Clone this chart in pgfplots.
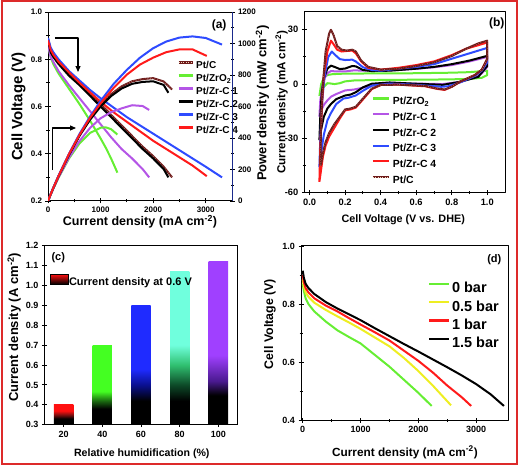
\documentclass[border=0pt]{standalone}
\usepackage{fontspec}
\setmainfont{Liberation Sans}
\usepackage{pgfplots}
\pgfplotsset{compat=1.18}
\usetikzlibrary{arrows.meta}
\definecolor{cGreen}{HTML}{66EE33}
\definecolor{cViolet}{HTML}{B455E6}
\definecolor{cBlue}{HTML}{2E4BFF}
\definecolor{cRed}{HTML}{FF1A1A}
\definecolor{cMaroon}{HTML}{6E1A1A}
\definecolor{cYellow}{HTML}{EEEE22}
\definecolor{cDots}{HTML}{F0D8C0}
\definecolor{cFrame}{HTML}{DD2A2A}
\definecolor{cNavy}{HTML}{1A2A8C}
\definecolor{bRed}{HTML}{FF1010}
\definecolor{bRedDark}{HTML}{801010}
\definecolor{bGreen}{HTML}{44FF22}
\definecolor{bGreenDark}{HTML}{1A6A10}
\definecolor{bBlue}{HTML}{1F2BFF}
\definecolor{bBlueMid}{HTML}{0A1090}
\definecolor{bAqua}{HTML}{70FFDD}
\definecolor{bAquaMid}{HTML}{30C070}
\definecolor{bAquaDark}{HTML}{0D4A28}
\definecolor{bViolet}{HTML}{A040FF}
\definecolor{bVioletMid}{HTML}{4A1A90}
\pgfdeclareverticalshading{shRed}{100bp}{color(0bp)=(black); color(40bp)=(black); color(50bp)=(bRedDark); color(60bp)=(bRed); color(100bp)=(bRed)}
\pgfdeclareverticalshading{shGreen}{100bp}{color(0bp)=(black); color(35bp)=(black); color(40bp)=(bGreenDark); color(46bp)=(bGreen); color(100bp)=(bGreen)}
\pgfdeclareverticalshading{shBlue}{100bp}{color(0bp)=(black); color(35bp)=(black); color(41.7bp)=(bBlueMid); color(48.3bp)=(bBlue); color(100bp)=(bBlue)}
\pgfdeclareverticalshading{shAqua}{100bp}{color(0bp)=(black); color(32.8bp)=(black); color(38bp)=(bAquaDark); color(44.5bp)=(bAquaMid); color(51bp)=(bAqua); color(100bp)=(bAqua)}
\pgfdeclareverticalshading{shViolet}{100bp}{color(0bp)=(black); color(34bp)=(black); color(38.4bp)=(bVioletMid); color(46.3bp)=(bViolet); color(100bp)=(bViolet)}
\newcommand{\fs}[1]{\fontsize{#1}{#1}\selectfont\bfseries}
\pgfplotsset{
  panel/.style={scale only axis, anchor=south west,
    axis line style={line width=1pt},
    every tick/.style={line width=0.9pt, black},
    tick align=center, major tick length=5pt, minor tick length=3pt,
    /pgf/number format/assume math mode=true,
    /pgf/number format/1000 sep={},
    scaled ticks=false, legend cell align=left},
  ln/.style={line width=2pt},
  ptc/.style={cMaroon, line width=2pt, postaction={draw, cDots, dotted, line width=0.4pt}},
}
\begin{document}
\begin{tikzpicture}[x=1pt,y=1pt]
\useasboundingbox (0,0) rectangle (520,468);
% ---------------- (a) voltage
\begin{axis}[panel, at={(48pt,267pt)}, width=184pt, height=189pt,
  xmin=0, xmax=3500, ymin=0.2, ymax=1.0,
  xtick pos=left, ytick pos=left,
  xtick={0,1000,2000,3000}, ytick={0.2,0.4,0.6,0.8,1.0},
  minor x tick num=1, minor y tick num=1,
  yticklabel style={/pgf/number format/.cd, fixed, fixed zerofill, precision=1},
  tick label style={font=\fs{8}},
  xlabel={Current density (mA cm\textsuperscript{-2})},
  xlabel style={font=\fs{12.5}, at={(axis description cs:0.5,-0.111)}, anchor=center},
  ylabel={Cell Voltage (V)},
  ylabel style={font=\fs{15}, at={(axis description cs:-0.16,0.5)}, anchor=center},
  legend style={at={(axis description cs:0.704,0.743)}, anchor=north west, draw=none, fill=none,
    inner sep=0pt, outer sep=0pt, font=\fs{10}, row sep=2pt, column sep=1.5pt,
    nodes={inner sep=1pt, text height=7pt, text depth=2pt}},
  legend image code/.code={\draw[#1, line width=2.2pt] (0pt,3.5pt) -- (14pt,3.5pt);},
  line join=round,
]
\addplot[ptc] coordinates {(0,0.89)(50,0.84)(100,0.82)(200,0.79)(400,0.74)(600,0.70)(800,0.655)(1000,0.61)(1200,0.565)(1400,0.52)(1600,0.475)(1800,0.43)(2000,0.39)(2200,0.345)(2360,0.30)};
\addlegendentry{Pt/C}
\addplot[cGreen, ln] coordinates {(0,0.86)(50,0.81)(100,0.78)(200,0.74)(400,0.675)(600,0.61)(800,0.54)(1000,0.465)(1100,0.425)(1200,0.38)(1320,0.32)};
\addlegendentry{Pt/ZrO\textsubscript{2}}
\addplot[cViolet, ln] coordinates {(0,0.86)(50,0.81)(100,0.79)(200,0.75)(400,0.69)(600,0.635)(800,0.58)(1000,0.525)(1200,0.47)(1400,0.42)(1600,0.38)(1800,0.335)(1925,0.30)};
\addlegendentry{Pt/Zr-C 1}
\addplot[black, ln] coordinates {(0,0.88)(50,0.83)(100,0.81)(200,0.78)(400,0.73)(600,0.69)(800,0.645)(1000,0.60)(1200,0.555)(1400,0.51)(1600,0.465)(1800,0.42)(2000,0.38)(2200,0.335)(2290,0.30)};
\addlegendentry{Pt/Zr-C 2}
\addplot[cBlue, ln] coordinates {(0,0.89)(50,0.85)(100,0.83)(200,0.80)(400,0.75)(600,0.71)(800,0.67)(1000,0.635)(1250,0.595)(1500,0.555)(1750,0.52)(2000,0.485)(2250,0.45)(2500,0.415)(2750,0.38)(3000,0.345)(3310,0.30)};
\addlegendentry{Pt/Zr-C 3}
\addplot[cRed, ln] coordinates {(0,0.88)(50,0.84)(100,0.82)(200,0.79)(400,0.745)(600,0.70)(800,0.66)(1000,0.62)(1250,0.575)(1500,0.535)(1750,0.495)(2000,0.455)(2250,0.42)(2500,0.385)(2750,0.35)(3020,0.305)};
\addlegendentry{Pt/Zr-C 4}
\draw[line width=1.1pt, -{Triangle[length=6pt, width=5pt]}] (axis cs:133,0.89) -- (axis cs:571,0.89) -- (axis cs:571,0.746);
\draw[line width=1.1pt, -{Triangle[length=6pt, width=5pt]}] (axis cs:86,0.331) -- (axis cs:86,0.509) -- (axis cs:533,0.509);
\node[font=\fs{12}] at (rel axis cs:0.93,0.931) {(a)};
\end{axis}
% ---------------- (a) power
\begin{axis}[panel, at={(48pt,267pt)}, width=184pt, height=189pt,
  xmin=0, xmax=3500, ymin=0, ymax=1200,
  axis x line=none, axis y line*=right,
  y axis line style={draw=cNavy, line width=1pt},
  ytick={0,200,400,600,800,1000,1200}, minor y tick num=1,
  tick label style={font=\fs{8}},
  ylabel={Power density (mW cm\textsuperscript{-2})},
  ylabel style={font=\fs{13}, at={(axis description cs:1.165,0.517)}, anchor=center},
  line join=round,
]
\addplot[ptc] coordinates {(0,0)(50,42)(100,82)(200,158)(400,296)(600,420)(800,524)(1000,610)(1200,678)(1400,728)(1600,760)(1800,774)(2000,780)(2200,759)(2360,708)};
\addplot[cGreen, ln] coordinates {(0,0)(50,40.5)(100,78)(200,148)(400,270)(600,366)(800,432)(1000,465)(1100,467.5)(1200,456)(1320,422)};
\addplot[cViolet, ln] coordinates {(0,0)(50,40.5)(100,79)(200,150)(400,276)(600,381)(800,464)(1000,525)(1200,564)(1400,588)(1600,608)(1800,603)(1925,578)};
\addplot[black, ln] coordinates {(0,0)(50,41.5)(100,81)(200,156)(400,292)(600,414)(800,516)(1000,600)(1200,666)(1400,714)(1600,744)(1800,756)(2000,760)(2200,737)(2290,687)};
\addplot[cBlue, ln] coordinates {(0,0)(50,42.5)(100,83)(200,160)(400,300)(600,426)(800,536)(1000,635)(1250,744)(1500,832.5)(1750,910)(2000,970)(2250,1012.5)(2500,1037.5)(2750,1045)(3000,1035)(3310,993)};
\addplot[cRed, ln] coordinates {(0,0)(50,42)(100,82)(200,158)(400,298)(600,420)(800,528)(1000,620)(1250,718.75)(1500,802.5)(1750,866.25)(2000,910)(2250,945)(2500,962.5)(2750,962.5)(3020,921)};
\end{axis}
% ---------------- (b)
\begin{axis}[panel, at={(304.3pt,275.3pt)}, width=200.7pt, height=181pt,
  xmin=-0.03, xmax=1.1, ymin=-60, ymax=40,
  xtick pos=left, ytick pos=left,
  xtick={0,0.2,0.4,0.6,0.8,1.0}, ytick={-60,-30,0,30},
  minor x tick num=1, minor y tick num=1,
  xticklabel style={/pgf/number format/.cd, fixed, fixed zerofill, precision=1},
  tick label style={font=\fs{9.3}},
  xlabel={Cell Voltage (V vs. DHE)},
  xlabel style={font=\fs{10.8}, at={(axis description cs:0.493,-0.151)}, anchor=center},
  ylabel={Current density (mA cm\textsuperscript{-2})},
  ylabel style={font=\fs{11.6}, at={(axis description cs:-0.113,0.5)}, anchor=center},
  legend style={at={(axis description cs:0.336,0.533)}, anchor=north west, draw=none, fill=none,
    inner sep=0pt, outer sep=0pt, font=\fs{10.4}, row sep=3.7pt, column sep=2pt,
    nodes={inner sep=1pt, text height=7.5pt, text depth=2.5pt}},
  legend image code/.code={\draw[#1, line width=2.2pt] (0pt,3.7pt) -- (16pt,3.7pt);},
  line join=round,
]
\addplot[cGreen, ln] coordinates {(0.055,-6.5)(0.065,0)(0.08,3.5)(0.1,5)(0.13,5.5)(0.2,5.8)(0.4,5.9)(0.6,6)(0.8,6.3)(0.9,6.6)(1.0,7.4)(1.0,5)(0.97,3.5)(0.9,2.8)(0.7,2.5)(0.4,2.3)(0.25,2)(0.2,1.5)(0.17,0.5)(0.14,0)(0.12,0.3)(0.1,0.5)(0.08,-1.5)(0.065,-3.5)(0.055,-6.5)};
\addlegendentry{Pt/ZrO\textsubscript{2}}
\addplot[cViolet, ln] coordinates {(0.055,-18)(0.06,-9)(0.07,-2)(0.085,3.5)(0.1,6)(0.12,7.2)(0.15,7)(0.2,7)(0.25,7.6)(0.3,7.4)(0.4,7.4)(0.5,7.8)(0.6,8.5)(0.7,9.3)(0.8,10.5)(0.9,12.5)(1.0,15)(1.0,9.5)(0.97,6)(0.93,3.7)(0.85,1.3)(0.75,0)(0.6,0.3)(0.4,0.4)(0.3,-2)(0.25,-3)(0.2,-3.5)(0.15,-5.5)(0.12,-7)(0.1,-9)(0.08,-11.5)(0.065,-14.5)(0.055,-18)};
\addlegendentry{Pt/Zr-C 1}
\addplot[black, ln] coordinates {(0.055,-31)(0.06,-18)(0.068,-5)(0.08,3)(0.1,8.5)(0.12,10.2)(0.14,9.5)(0.17,8.3)(0.2,8.6)(0.24,10)(0.26,9.8)(0.3,7.8)(0.35,7.2)(0.45,7.4)(0.6,8.5)(0.7,9.5)(0.8,11)(0.9,13)(1.0,15.6)(1.0,10)(0.97,6.5)(0.95,4)(0.85,1.3)(0.75,-0.4)(0.6,0.2)(0.45,0.9)(0.35,0.2)(0.3,-1.8)(0.26,-4.5)(0.23,-5.8)(0.2,-6.3)(0.15,-8.3)(0.12,-11)(0.1,-13.5)(0.08,-18)(0.065,-25)(0.055,-31)};
\addlegendentry{Pt/Zr-C 2}
\addplot[cBlue, ln] coordinates {(0.055,-46)(0.06,-30)(0.07,-10)(0.085,5)(0.105,15)(0.125,18)(0.145,16)(0.17,13.8)(0.2,13.3)(0.24,13.5)(0.26,12.5)(0.3,9.3)(0.35,7.8)(0.4,7.4)(0.5,8.5)(0.6,9.5)(0.7,11)(0.8,14)(0.9,17)(1.0,20)(1.0,12)(0.97,7.5)(0.93,4.5)(0.85,1)(0.78,-1.2)(0.74,-1.5)(0.68,-1)(0.6,-0.4)(0.45,0.3)(0.35,-0.9)(0.3,-3.7)(0.26,-6.3)(0.22,-7.5)(0.19,-8)(0.15,-11)(0.12,-16)(0.1,-20)(0.08,-28)(0.065,-38)(0.055,-46)};
\addlegendentry{Pt/Zr-C 3}
\addplot[cRed, ln] coordinates {(0.055,-54)(0.06,-35)(0.07,-10)(0.08,5)(0.1,18)(0.12,24)(0.135,22)(0.155,19)(0.18,18)(0.21,18.3)(0.24,18.5)(0.26,17)(0.29,12.5)(0.33,9)(0.4,8)(0.5,9)(0.6,10.5)(0.7,12.5)(0.8,16)(0.88,19.5)(0.95,21.5)(1.0,23)(1.0,14)(0.97,8)(0.93,5)(0.85,1.5)(0.8,-1.5)(0.76,-3.2)(0.72,-2.7)(0.65,-1.2)(0.5,-0.3)(0.4,-0.5)(0.35,-2.8)(0.3,-8.5)(0.26,-13)(0.23,-14)(0.2,-14.5)(0.17,-19)(0.14,-24)(0.11,-29)(0.09,-34)(0.075,-40)(0.065,-47)(0.055,-54)};
\addlegendentry{Pt/Zr-C 4}
\addplot[ptc] coordinates {(0.06,-45)(0.065,-20)(0.075,0)(0.09,18)(0.11,28)(0.12,30)(0.135,27)(0.155,21)(0.18,19)(0.21,18.5)(0.24,19)(0.26,18)(0.29,13)(0.33,9.5)(0.4,8)(0.5,8.5)(0.6,10)(0.7,12)(0.8,15.5)(0.88,19.5)(0.95,22.5)(1.0,24)(1.0,14)(0.97,8)(0.93,5)(0.85,1.5)(0.8,-1.5)(0.76,-3)(0.72,-2.5)(0.65,-1)(0.5,-0.3)(0.4,-0.5)(0.35,-2.5)(0.3,-8)(0.26,-12.5)(0.23,-13.5)(0.2,-14)(0.17,-18)(0.14,-22)(0.11,-27)(0.09,-32)(0.075,-38)(0.065,-44)(0.06,-45)};
\addlegendentry{Pt/C}
\node[font=\fs{12}] at (rel axis cs:0.959,0.936) {(b)};
\end{axis}
% ---------------- (c)
\begin{axis}[panel, at={(44.3pt,43.3pt)}, width=193.4pt, height=179pt,
  xmin=10, xmax=110, ymin=0.3, ymax=1.2,
  xtick pos=left, ytick pos=left,
  xtick={20,40,60,80,100}, ytick={0.3,0.4,0.5,0.6,0.7,0.8,0.9,1.0,1.1,1.2},
  yticklabel style={/pgf/number format/.cd, fixed, fixed zerofill, precision=1},
  tick label style={font=\fs{9}},
  xlabel={Relative humidification (\%)},
  xlabel style={font=\fs{10.6}, at={(axis description cs:0.504,-0.16)}, anchor=center},
  ylabel={Current density (A cm\textsuperscript{-2})},
  ylabel style={font=\fs{13}, at={(axis description cs:-0.156,0.544)}, anchor=center},
  legend style={at={(axis description cs:0.03,0.842)}, anchor=north west, draw=none, fill=none,
    inner sep=0pt, outer sep=0pt, font=\fs{11}, column sep=0pt,
    nodes={inner sep=0.5pt, text height=8pt, text depth=2.5pt}},
]
\addplot[ybar, bar width=10, bar shift=0pt, draw=none, shading=shRed, forget plot] coordinates {(20,0.40)};
\addplot[ybar, bar width=10, bar shift=0pt, draw=none, shading=shGreen, forget plot] coordinates {(40,0.70)};
\addplot[ybar, bar width=10, bar shift=0pt, draw=none, shading=shBlue, forget plot] coordinates {(60,0.90)};
\addplot[ybar, bar width=10, bar shift=0pt, draw=none, shading=shAqua, forget plot] coordinates {(80,1.07)};
\addplot[ybar, bar width=10, bar shift=0pt, draw=none, shading=shViolet, forget plot] coordinates {(100,1.12)};
\addlegendimage{legend image code/.code={\shade[top color=bRed, middle color=bRed!60!black, bottom color=black] (0pt,-1.2pt) rectangle (18pt,8.8pt);}}
\addlegendentry{Current density at 0.6 V}
\node[font=\fs{11}] at (rel axis cs:0.072,0.935) {(c)};
\end{axis}
% ---------------- (d)
\begin{axis}[panel, at={(301pt,47.5pt)}, width=207pt, height=174.5pt,
  xmin=-30, xmax=3550, ymin=0.4, ymax=1.0,
  xtick pos=left, ytick pos=left,
  xtick={0,1000,2000,3000}, ytick={0.4,0.6,0.8,1.0},
  minor x tick num=1, minor y tick num=1,
  yticklabel style={/pgf/number format/.cd, fixed, fixed zerofill, precision=1},
  tick label style={font=\fs{9}},
  xlabel={Current density (mA cm\textsuperscript{-2})},
  xlabel style={font=\fs{11.8}, at={(axis description cs:0.502,-0.182)}, anchor=center},
  ylabel={Cell Voltage (V)},
  ylabel style={font=\fs{12.4}, at={(axis description cs:-0.15,0.553)}, anchor=center},
  legend style={at={(axis description cs:0.615,0.797)}, anchor=north west, draw=none, fill=none,
    inner sep=0pt, outer sep=0pt, font=\fs{14.5}, row sep=2.8pt, column sep=0.5pt,
    nodes={inner sep=1pt, text height=10.5pt, text depth=3pt}},
  legend image code/.code={\draw[#1, line width=2.2pt] (0pt,5.2pt) -- (20pt,5.2pt);},
  line join=round,
]
\addplot[cGreen, ln] coordinates {(0,0.87)(20,0.845)(50,0.82)(100,0.80)(200,0.775)(400,0.74)(600,0.71)(800,0.687)(1000,0.665)(1250,0.625)(1500,0.585)(1750,0.54)(2000,0.495)(2230,0.45)};
\addlegendentry{0 bar}
\addplot[cYellow, ln] coordinates {(0,0.885)(20,0.86)(50,0.84)(100,0.825)(200,0.805)(400,0.78)(600,0.758)(800,0.737)(1000,0.715)(1250,0.685)(1500,0.655)(1750,0.615)(2000,0.57)(2250,0.52)(2565,0.452)};
\addlegendentry{0.5 bar}
\addplot[cRed, ln] coordinates {(0,0.90)(20,0.875)(50,0.855)(100,0.84)(200,0.82)(400,0.795)(600,0.775)(800,0.752)(1000,0.73)(1250,0.703)(1500,0.675)(1750,0.64)(2000,0.605)(2250,0.565)(2500,0.52)(2750,0.48)(2913,0.45)};
\addlegendentry{1 bar}
\addplot[black, ln] coordinates {(0,0.915)(20,0.89)(50,0.87)(100,0.855)(200,0.835)(400,0.807)(600,0.785)(800,0.765)(1000,0.745)(1250,0.717)(1500,0.69)(1750,0.663)(2000,0.637)(2250,0.61)(2500,0.583)(2750,0.555)(3000,0.525)(3250,0.49)(3480,0.45)};
\addlegendentry{1.5 bar}
\node[font=\fs{11}] at (rel axis cs:0.934,0.92) {(d)};
\end{axis}
\draw[cFrame, line width=2pt] (1.7,4) rectangle (516.7,467);
\end{tikzpicture}
\end{document}
